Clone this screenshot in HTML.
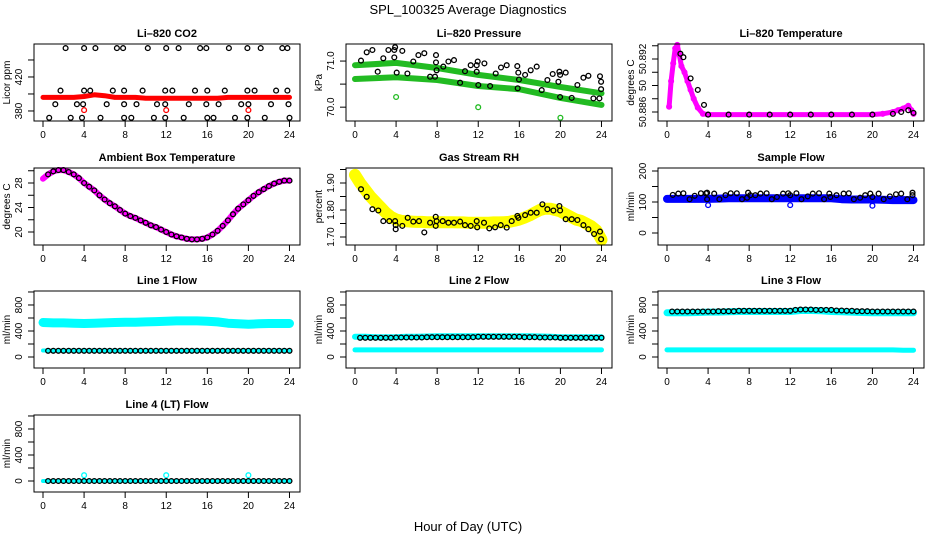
<!DOCTYPE html>
<html><head><meta charset="utf-8"><title>SPL_100325 Average Diagnostics</title>
<style>
html,body{margin:0;padding:0;background:#fff;}
svg{display:block;font-family:"Liberation Sans",sans-serif;}
</style></head>
<body>
<svg id="chart" width="936" height="540" viewBox="0 0 936 540" xmlns="http://www.w3.org/2000/svg">
<text x="468" y="14" text-anchor="middle" font-size="13">SPL_100325  Average Diagnostics</text>
<text x="468" y="531" text-anchor="middle" font-size="13">Hour of Day (UTC)</text>
</svg>
<script>
const xTicks = [0,4,8,12,16,20,24];
const halfHours = [0,0.5,1,1.5,2,2.5,3,3.5,4,4.5,5,5.5,6,6.5,7,7.5,8,8.5,9,9.5,10,10.5,11,11.5,12,12.5,13,13.5,14,14.5,15,15.5,16,16.5,17,17.5,18,18.5,19,19.5,20,20.5,21,21.5,22,22.5,23,23.5,24];
const hours = [0,1,2,3,4,5,6,7,8,9,10,11,12,13,14,15,16,17,18,19,20,21,22,23,24];
const outlierHours = [4,12,20];

// Li-820 CO2
const co2Red = [396,396,396,396,397,399,398,396,396,396,395,395,395,395,395,395,395,395,396,396,396,396,396,396,396];
const co2RedOutliers = [381,381,381];
const co2BlackHours = [2.2,4.0,5.1,7.2,7.8,10.2,12.0,13.2,15.3,15.9,18.1,19.9,21.2,23.3,23.8, 1.7,4.0,4.6,6.8,7.9,9.7,11.9,12.6,14.8,16.0,17.7,19.9,20.6,22.7,23.8, 1.2,3.3,3.9,6.2,7.9,9.1,11.1,11.9,14.2,15.9,17.1,19.3,20.0,22.2,23.9, 0.6,2.7,3.8,5.6,7.9,8.6,10.8,11.9,13.7,16.0,16.6,18.7,19.9,21.6,24.0];
const co2BlackVals = [454,454,454,454,454,454,454,454,454,454,454,454,454,454,454, 404,404,404,404,404,404,404,404,404,404,404,404,404,404,404, 388,388,388,388,388,388,388,388,388,388,388,388,388,388,388, 372,372,372,372,372,372,372,372,372,372,372,372,372,372,372];

// Li-820 Pressure
const presHours = [0,4,8,12,16,20,24];
const presUpper = [70.91,70.96,70.85,70.70,70.59,70.44,70.30];
const presLower = [70.61,70.65,70.59,70.46,70.39,70.20,70.05];
const presGreenOutliers = [70.22,70.0,69.77];
const presBlackHours = [0.58,1.14,1.69,2.21,2.76,3.25,3.83,3.90,3.83,4.06,4.61,5.10,5.68,6.17,6.75,7.31,7.79,7.89,7.89,7.95,8.60,9.09,9.64,10.23,10.71,11.27,11.85,11.85,11.95,12.01,12.60,13.15,13.70,14.22,14.77,15.80,15.84,15.90,15.97,16.56,17.11,17.69,18.18,18.73,19.25,19.81,19.90,19.97,19.97,20.52,21.10,21.66,22.24,22.73,23.21,23.80,23.86,23.96,23.96];
const presBlackVals = [71.01,71.19,71.24,70.77,71.06,71.24,71.24,71.30,71.08,70.75,71.22,70.73,70.99,71.13,71.17,70.66,70.66,71.13,70.97,70.80,70.88,70.99,71.02,70.53,70.78,70.91,70.91,70.77,70.99,70.48,70.95,70.46,70.73,70.86,70.91,70.89,70.41,70.75,70.60,70.70,70.80,70.88,70.37,70.59,70.72,70.55,70.77,70.70,70.22,70.75,70.20,70.48,70.64,70.68,70.19,70.19,70.67,70.55,70.39];

// Li-820 Temperature
const ltHours = [0.2,0.4,0.6,0.8,1.0,1.2,1.4,1.7,2.0,2.3,2.6,3.0,3.5,4,6,8,10,12,14,16,18,20,21,22,22.5,23,23.5,23.8,24];
const ltVals = [50.8866,50.8895,50.8915,50.8932,50.8936,50.8925,50.8912,50.8905,50.8895,50.8885,50.8875,50.8865,50.8858,50.8857,50.8857,50.8857,50.8857,50.8857,50.8857,50.8857,50.8857,50.8857,50.8858,50.8860,50.8862,50.8864,50.8867,50.8862,50.8858];
const ltBlackHours = [1.3,1.6,2.3,3.0,3.6,4,6,8,10,12,14,16,18,20,22,22.8,23.5,24];
const ltBlackVals = [50.8926,50.8922,50.8898,50.8885,50.8868,50.8857,50.8857,50.8857,50.8857,50.8857,50.8857,50.8857,50.8857,50.8857,50.8858,50.8860,50.8862,50.8859];

// Ambient box temperature
const ambVals = [28.7,29.4,29.9,30.1,30.1,29.8,29.4,28.8,28.0,27.4,26.8,26.0,25.3,24.7,24.2,23.6,23.0,22.6,22.3,21.9,21.5,21.1,20.8,20.4,20.0,19.6,19.3,19.1,18.9,18.8,18.8,18.9,19.1,19.6,20.2,21.0,21.9,22.9,23.8,24.5,25.2,25.9,26.5,27.0,27.5,27.9,28.2,28.4,28.4];

// Gas stream RH
const rhYellow = [1.93,1.90,1.875,1.85,1.83,1.81,1.79,1.775,1.765,1.76,1.758,1.757,1.756,1.756,1.755,1.755,1.755,1.755,1.755,1.755,1.754,1.754,1.753,1.753,1.753,1.753,1.753,1.754,1.754,1.755,1.756,1.76,1.765,1.772,1.78,1.79,1.80,1.805,1.805,1.80,1.795,1.785,1.775,1.765,1.76,1.75,1.74,1.725,1.69];
const rhBlackHours = [0.58,1.14,1.69,2.27,2.76,3.34,3.90,3.96,3.96,4.61,5.13,5.68,6.23,6.75,7.31,7.86,7.86,7.95,8.54,9.09,9.64,10.23,10.71,11.27,11.85,11.9,12.56,13.08,13.64,14.19,14.77,15.26,15.81,15.91,16.56,17.11,17.69,18.25,18.73,19.32,19.90,19.97,20.52,21.10,21.66,22.24,22.73,23.28,23.86,23.96];
const rhBlackVals = [1.877,1.849,1.803,1.798,1.759,1.759,1.759,1.744,1.729,1.741,1.771,1.757,1.759,1.717,1.753,1.775,1.741,1.759,1.759,1.753,1.753,1.757,1.744,1.741,1.759,1.736,1.753,1.732,1.736,1.744,1.735,1.759,1.778,1.771,1.781,1.790,1.790,1.821,1.803,1.798,1.815,1.798,1.766,1.766,1.763,1.744,1.729,1.711,1.720,1.692];

// Sample flow
const sfBlue = [110,110,110,110,110,111,112,112,112,112,112,112,112,112,112,112,112,109,108,108,108,107,106,106,106];
const sfBlueOutliers = [90,90,88];
const sfBlackHours = [0.56,1.1,1.6,2.2,2.7,3.3,3.8,3.9,3.9,4.6,5.1,5.7,6.2,6.8,7.3,7.8,7.9,8.1,8.6,9.1,9.7,10.2,10.7,11.3,11.8,12.0,12.6,13.1,13.7,14.2,14.8,15.3,15.8,15.9,16.5,17.2,17.7,18.2,18.8,19.3,19.8,20.0,20.6,21.1,21.7,22.3,22.8,23.4,23.9,23.9];
const sfBlackVals = [123,127,128,109,120,128,128,130,109,127,109,122,128,128,109,114,130,122,122,127,128,109,116,127,128,122,128,109,118,127,128,109,127,116,122,127,128,109,114,122,127,116,127,109,118,125,127,109,122,130];

// Line flows
const l1Upper = [530,525,525,520,515,520,525,530,535,535,540,545,550,555,555,555,550,540,520,510,505,510,515,515,515];
const l1Lower = [100,100,100,100,100,100,100,100,100,100,100,100,100,100,100,100,100,100,100,100,100,100,100,100,100];
const l1Black = [95,95,95,95,95,95,95,95,95,95,95,95,95,95,95,95,95,95,95,95,95,95,95,95,95,95,95,95,95,95,95,95,95,95,95,95,95,95,95,95,95,95,95,95,95,95,95,95];
const l2Upper = [310,310,305,305,305,310,310,315,320,320,320,320,320,320,320,320,320,318,315,310,305,305,305,305,305];
const l2Lower = [110,110,110,110,110,110,110,110,110,110,110,110,110,110,110,110,110,110,110,110,110,110,110,110,110];
const l2Black = [295,295,295,295,295,295,295,300,300,300,300,300,300,305,305,305,305,305,305,305,305,305,305,310,310,310,310,310,310,310,310,310,305,305,305,300,300,300,300,295,295,295,295,295,295,295,295,295];
const l3Upper = [680,680,680,685,690,690,695,700,700,700,700,700,700,715,715,710,700,695,690,685,680,680,680,680,680];
const l3Lower = [110,110,110,110,110,110,110,110,110,110,110,110,110,110,110,110,110,110,110,110,110,110,110,105,105];
const l3Black = [700,700,700,700,700,700,700,700,700,705,705,705,705,710,710,710,710,710,710,710,710,710,710,710,725,730,730,730,725,725,725,725,715,715,710,710,705,705,705,700,700,700,700,700,700,700,700,700];
const l4Cyan = [0,0,0,0,0,0,0,0,0,0,0,0,0,0,0,0,0,0,0,0,0,0,0,0,0];
const l4CyanOutliers = [90,90,90];
const l4Black = [0,0,0,0,0,0,0,0,0,0,0,0,0,0,0,0,0,0,0,0,0,0,0,0,0,0,0,0,0,0,0,0,0,0,0,0,0,0,0,0,0,0,0,0,0,0,0,0];

const NS = "http://www.w3.org/2000/svg";
const svg = document.getElementById('chart');
const colLeft = [34,346,658], rowTop = [44,168,291,415], PW = 266, PH = 77;
const bH = halfHours.slice(1);

function mk(tag, attrs, parent){
  const e = document.createElementNS(NS, tag);
  for (const k in attrs) e.setAttribute(k, attrs[k]);
  (parent||svg).appendChild(e);
  return e;
}

const panels = [
 {key:'co2',c:0,r:0,title:'Li\u2013820 CO2',ylab:'Licor ppm',ymin:368.2,ymax:458.8,ticks:[380,400,420,440],labels:{380:'380',420:'420'},
  series:[
   {type:'band',xs:hours,ys:co2Red,color:'#ff0000',w:5},
   {type:'pts',xs:outlierHours,ys:co2RedOutliers,color:'#ff0000'},
   {type:'pts',xs:co2BlackHours,ys:co2BlackVals,color:'#000'}]},
 {key:'pressure',c:1,r:0,title:'Li\u2013820 Pressure',ylab:'kPa',ymin:69.70,ymax:71.37,ticks:[70.0,70.5,71.0],labels:{'70':'70.0','71':'71.0'},
  series:[
   {type:'band',xs:presHours,ys:presUpper,color:'#22bb22',w:6},
   {type:'band',xs:presHours,ys:presLower,color:'#22bb22',w:6},
   {type:'pts',xs:outlierHours,ys:presGreenOutliers,color:'#22bb22'},
   {type:'pts',xs:presBlackHours,ys:presBlackVals,color:'#000'}]},
 {key:'li-temp',c:2,r:0,title:'Li\u2013820 Temperature',ylab:'degrees C',ymin:50.88498,ymax:50.8937,ticks:[50.886,50.8875,50.889,50.8905,50.892,50.8935],labels:{'50.886':'50.886','50.889':'50','50.892':'50.892'},
  series:[
   {type:'band',xs:ltHours,ys:ltVals,color:'#ff00ff',w:5},
   {type:'pts',xs:ltHours,ys:ltVals,color:'#ff00ff'},
   {type:'pts',xs:ltBlackHours,ys:ltBlackVals,color:'#000'}]},
 {key:'ambient',c:0,r:1,title:'Ambient Box Temperature',ylab:'degrees C',ymin:17.88,ymax:30.45,ticks:[20,22,24,26,28,30],labels:{20:'20',24:'24',28:'28'},
  series:[
   {type:'band',xs:halfHours,ys:ambVals,color:'#ff00ff',w:6},
   {type:'pts',xs:bH,ys:ambVals.slice(1),color:'#000'}]},
 {key:'rh',c:1,r:1,title:'Gas Stream RH',ylab:'percent',ymin:1.6704,ymax:1.9556,ticks:[1.70,1.75,1.80,1.85,1.90,1.95],labels:{'1.7':'1.70','1.8':'1.80','1.9':'1.90'},
  series:[
   {type:'band',xs:halfHours,ys:rhYellow,color:'#ffff00',w:12},
   {type:'pts',xs:rhBlackHours,ys:rhBlackVals,color:'#000'}]},
 {key:'sample-flow',c:2,r:1,title:'Sample Flow',ylab:'ml/min',ymin:-38.7,ymax:209.7,ticks:[0,50,100,150,200],labels:{0:'0',100:'100',200:'200'},
  series:[
   {type:'band',xs:hours,ys:sfBlue,color:'#0000ff',w:8},
   {type:'pts',xs:outlierHours,ys:sfBlueOutliers,color:'#0000ff'},
   {type:'pts',xs:sfBlackHours,ys:sfBlackVals,color:'#000'}]},
 {key:'line1',c:0,r:2,title:'Line 1 Flow',ylab:'ml/min',ymin:-169,ymax:1015,ticks:[0,200,400,600,800,1000],labels:{0:'0',400:'400',800:'800'},
  series:[
   {type:'band',xs:hours,ys:l1Upper,color:'#00ffff',w:9},
   {type:'band',xs:hours,ys:l1Lower,color:'#00ffff',w:4},
   {type:'pts',xs:bH,ys:l1Black,color:'#000'}]},
 {key:'line2',c:1,r:2,title:'Line 2 Flow',ylab:'ml/min',ymin:-169,ymax:1015,ticks:[0,200,400,600,800,1000],labels:{0:'0',400:'400',800:'800'},
  series:[
   {type:'band',xs:hours,ys:l2Upper,color:'#00ffff',w:6},
   {type:'band',xs:hours,ys:l2Lower,color:'#00ffff',w:5},
   {type:'pts',xs:bH,ys:l2Black,color:'#000'}]},
 {key:'line3',c:2,r:2,title:'Line 3 Flow',ylab:'ml/min',ymin:-169,ymax:1015,ticks:[0,200,400,600,800,1000],labels:{0:'0',400:'400',800:'800'},
  series:[
   {type:'band',xs:hours,ys:l3Upper,color:'#00ffff',w:7},
   {type:'band',xs:hours,ys:l3Lower,color:'#00ffff',w:5},
   {type:'pts',xs:bH,ys:l3Black,color:'#000'}]},
 {key:'line4',c:0,r:3,title:'Line 4 (LT) Flow',ylab:'ml/min',ymin:-169,ymax:1015,ticks:[0,200,400,600,800,1000],labels:{0:'0',400:'400',800:'800'},
  series:[
   {type:'band',xs:hours,ys:l4Cyan,color:'#00ffff',w:4},
   {type:'pts',xs:outlierHours,ys:l4CyanOutliers,color:'#00ffff'},
   {type:'pts',xs:bH,ys:l4Black,color:'#000'}]}
];

panels.forEach(p=>{
  const L = colLeft[p.c], T = rowTop[p.r];
  const g = mk('g',{});
  
  
  const xs = h => L + 9 + h*10.27;
  const ys = v => T + PH - (v - p.ymin)/(p.ymax - p.ymin)*PH;
  const t = mk('text',{x:L+PW/2,y:T-7,'text-anchor':'middle','font-size':'11','font-weight':'bold'},g);
  t.textContent = p.title;
  
  
  const plot = mk('g',{},g);
  
  
  p.series.forEach((s,si)=>{
    if (s.type==='band'){
      const pts = s.xs.map((h,i)=>xs(h).toFixed(1)+','+ys(s.ys[i]).toFixed(1)).join(' ');
      const pl = mk('polyline',{points:pts,fill:'none',stroke:s.color,'stroke-width':s.w,'stroke-linejoin':'round','stroke-linecap':'round'},plot);
      
      
    } else {
      s.xs.forEach((h,i)=>{
        const c = mk('circle',{cx:xs(h).toFixed(1),cy:ys(s.ys[i]).toFixed(1),r:2.4,fill:'none',stroke:s.color,'stroke-width':1.3},plot);
        
        
      });
    }
  });
  const box = mk('rect',{x:L,y:T,width:PW,height:PH,fill:'none',stroke:'#000','stroke-width':1},g);
  
  
  const xa = mk('g',{},g);
  
  
  xTicks.forEach(h=>{
    mk('line',{x1:xs(h),x2:xs(h),y1:T+PH,y2:T+PH+6,stroke:'#000'},xa);
    const tl = mk('text',{x:xs(h),y:T+PH+17,'text-anchor':'middle','font-size':'10'},xa);
    tl.textContent = h;
  });
  const ya = mk('g',{},g);
  
  
  p.ticks.forEach(v=>{
    const y = ys(v);
    mk('line',{x1:L-6,x2:L,y1:y,y2:y,stroke:'#000'},ya);
    const lab = p.labels[String(v)];
    if (lab){
      const tl = mk('text',{x:L-12,y:y,'text-anchor':'middle','font-size':'10',transform:`rotate(-90 ${L-12} ${y})`},ya);
      tl.textContent = lab;
    }
  });
  const yt = mk('text',{x:L-24,y:T+PH/2,'text-anchor':'middle','font-size':'10',transform:`rotate(-90 ${L-24} ${T+PH/2})`},g);
  yt.textContent = p.ylab;
  
  
});
</script>
</body></html>
